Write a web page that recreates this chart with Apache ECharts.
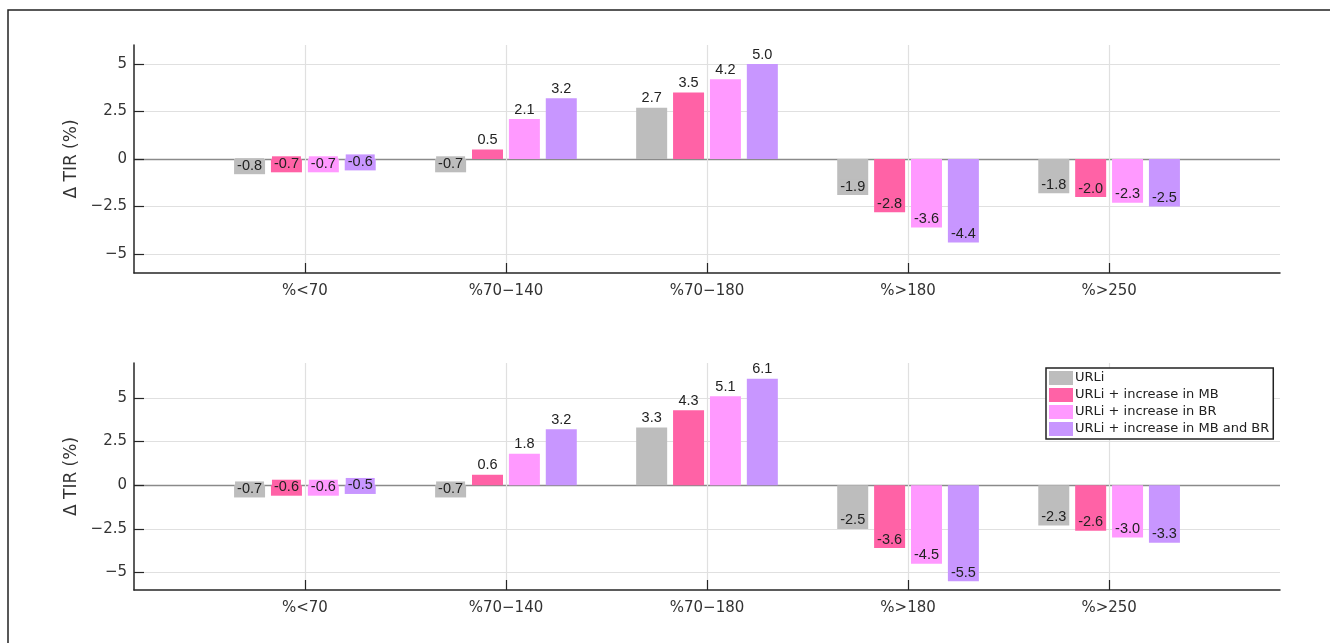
<!DOCTYPE html>
<html>
<head>
<meta charset="utf-8">
<script src="https://cdn.jsdelivr.net/npm/echarts@6/dist/echarts.min.js"></script>
<style>
html,body{margin:0;padding:0;background:#fff;}
#chart{width:1330px;height:643px;}
</style>
</head>
<body>
<div id="chart"></div>
<script>
// ---- data ----
const categories = ['%<70', '%70\u2212140', '%70\u2212180', '%>180', '%>250'];
const seriesNames = ['URLi', 'URLi + increase in MB', 'URLi + increase in BR', 'URLi + increase in MB and BR'];
const colors = ['#BDBDBD', '#FF62A6', '#FF99FF', '#C896FF'];

const topURLi   = [-0.8, -0.7, 2.7, -1.9, -1.8];
const topMB     = [-0.7,  0.5, 3.5, -2.8, -2.0];
const topBR     = [-0.7,  2.1, 4.2, -3.6, -2.3];
const topMBBR   = [-0.6,  3.2, 5.0, -4.4, -2.5];

const botURLi   = [-0.7, -0.7, 3.3, -2.5, -2.3];
const botMB     = [-0.6,  0.6, 4.3, -3.6, -2.6];
const botBR     = [-0.6,  1.8, 5.1, -4.5, -3.0];
const botMBBR   = [-0.5,  3.2, 6.1, -5.5, -3.3];

const yTicks = [-5, -2.5, 0, 2.5, 5];
const xTicks = [1, 2, 3, 4, 5];

// ---- build ----
const topSets = [topURLi, topMB, topBR, topMBBR];
const botSets = [botURLi, botMB, botBR, botMBBR];

const FONT = 'DejaVu Sans';
const fmtY = v => String(v).replace('-', '\u2212');

function makeAxes(gridIndex, ymin, ymax) {
  const x = {
    type: 'value', gridIndex, min: 0.15, max: 5.85,
    axisLine: {show: true, onZero: false, lineStyle: {color: '#262626', width: 1.5}},
    axisTick: {show: true, inside: true, length: 10, customValues: xTicks, lineStyle: {color: '#262626', width: 1.2}},
    axisLabel: {show: true, customValues: xTicks, formatter: v => categories[Math.round(v) - 1] || '',
      fontFamily: FONT, fontSize: 15, color: '#333', margin: 11},
    splitLine: {show: false}
  };
  const y = {
    type: 'value', gridIndex, min: ymin, max: ymax,
    name: '\u0394 TIR (%)', nameLocation: 'middle', nameGap: 46,
    nameTextStyle: {fontFamily: FONT, fontSize: 17, color: '#333'},
    axisLine: {show: true, onZero: false, lineStyle: {color: '#262626', width: 1.5}},
    axisTick: {show: true, inside: true, length: 10, customValues: yTicks, lineStyle: {color: '#262626', width: 1.2}},
    axisLabel: {show: true, customValues: yTicks, formatter: fmtY,
      fontFamily: FONT, fontSize: 15, color: '#333', margin: 7},
    splitLine: {show: false}
  };
  return [x, y];
}

function gridLinesSeries(idx) {
  const data = [];
  yTicks.forEach(v => {
    data.push({yAxis: v, lineStyle: {color: v === 0 ? '#8a8a8a' : '#e0e0e0', width: v === 0 ? 1.3 : 1.2, type: 'solid'}});
  });
  xTicks.forEach(v => {
    data.push({xAxis: v, lineStyle: {color: '#e0e0e0', width: 1.2, type: 'solid'}});
  });
  return {
    type: 'line', xAxisIndex: idx, yAxisIndex: idx, data: [], silent: true, z: 0,
    markLine: {silent: true, symbol: ['none', 'none'], label: {show: false}, z: 0,
      animation: false, emphasis: {disabled: true}, data}
  };
}

function barSeries(idx, sets) {
  return sets.map((vals, s) => ({
    name: seriesNames[s], type: 'bar', xAxisIndex: idx, yAxisIndex: idx,
    barWidth: 31, barGap: '19%', z: 3,
    itemStyle: {color: colors[s]},
    data: vals.map((v, i) => ({
      value: [xTicks[i], v],
      label: v >= 0
        ? {show: true, position: 'top', distance: 2}
        : {show: true, position: 'insideBottom', distance: 1, backgroundColor: colors[s], padding: [0, 2, 0, 2]}
    })),
    label: {show: true, formatter: p => p.value[1].toFixed(1), fontFamily: 'Liberation Sans', fontSize: 14.5, color: '#222'}
  }));
}

const [x0, y0] = makeAxes(0, -6, 6);
const [x1, y1] = makeAxes(1, -6, 7);

const option = {
  animation: false,
  backgroundColor: '#fff',
  color: colors,
  grid: [
    {left: 134, top: 45, width: 1146, height: 228},
    {left: 134, top: 363, width: 1146, height: 227}
  ],
  xAxis: [x0, x1],
  yAxis: [y0, y1],
  legend: {
    data: seriesNames, orient: 'vertical', left: 1046, top: 368,
    itemWidth: 24, itemHeight: 14, itemGap: 3, padding: [3, 4, 3, 3],
    borderColor: '#222', borderWidth: 1.5, backgroundColor: '#fff', borderRadius: 0,
    icon: 'rect', selectedMode: false,
    textStyle: {fontFamily: FONT, fontSize: 13, color: '#222', padding: [0, 0, 0, -3]}
  },
  graphic: [{
    type: 'rect', shape: {x: 8, y: 10, width: 1400, height: 700},
    style: {fill: 'none', stroke: '#222', lineWidth: 1.5}, silent: true, z: 100
  }],
  series: [gridLinesSeries(0), gridLinesSeries(1)]
    .concat(barSeries(0, topSets))
    .concat(barSeries(1, botSets))
};

const chart = echarts.init(document.getElementById('chart'), null, {renderer: 'canvas'});
chart.setOption(option);
</script>
</body>
</html>
